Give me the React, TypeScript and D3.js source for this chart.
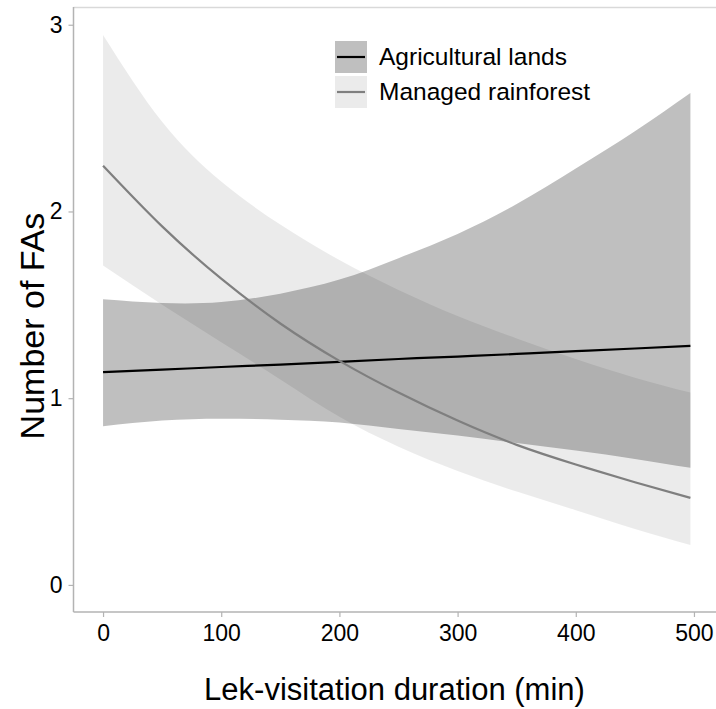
import React, { useRef, useEffect } from 'react';
import * as d3 from 'd3';

// duration values (min) at which the fitted curves were read
const durations = [0, 50, 100, 150, 200, 250, 300, 350, 400, 450, 497];

// Agricultural lands: fit and 95% band
const agriFit = [1.14, 1.153, 1.167, 1.18, 1.195, 1.21, 1.223, 1.237, 1.252, 1.266, 1.28];
const agriUpper = [1.53, 1.51, 1.515, 1.56, 1.635, 1.75, 1.88, 2.04, 2.23, 2.43, 2.635];
const agriLower = [0.85, 0.88, 0.89, 0.885, 0.87, 0.835, 0.8, 0.76, 0.72, 0.675, 0.627];

// Managed rainforest: fit and 95% band
const managedFit = [2.245, 1.92, 1.64, 1.4, 1.2, 1.03, 0.88, 0.75, 0.645, 0.55, 0.466];
const managedUpper = [2.945, 2.48, 2.16, 1.93, 1.74, 1.58, 1.44, 1.32, 1.21, 1.11, 1.03];
const managedLower = [1.71, 1.5, 1.3, 1.1, 0.9, 0.74, 0.61, 0.5, 0.4, 0.3, 0.214];

const seriesNames = ['Agricultural lands', 'Managed rainforest'];
const xTicks = [0, 100, 200, 300, 400, 500];
const yTicks = [0, 1, 2, 3];

const W = 716;
const H = 709;

const App: React.FC = () => {
  const svgRef = useRef<SVGSVGElement>(null);

  useEffect(() => {
    if (!svgRef.current) return;
    const svg = d3.select(svgRef.current);
    svg.selectAll('*').remove();

    const font = "'Liberation Sans', Arial, sans-serif";
    const x = d3.scaleLinear().domain([-25, 525]).range([73.5, 723.5]);
    const y = d3.scaleLinear().domain([-0.145, 3.095]).range([612, 7]);

    const [x0, x1] = x.range();
    const [yb, yt] = y.range();

    svg.append('defs').append('clipPath').attr('id', 'plot-clip')
      .append('rect')
      .attr('x', x0).attr('y', yt)
      .attr('width', x1 - x0).attr('height', yb - yt);

    // top border of the panel
    svg.append('line')
      .attr('x1', x0).attr('x2', W)
      .attr('y1', yt + 0.5).attr('y2', yt + 0.5)
      .attr('stroke', '#d9d9d9').attr('stroke-width', 1.5);

    const series = [
      { name: seriesNames[0], fit: agriFit, lo: agriLower, hi: agriUpper, fill: 'black', alpha: 0.25, line: '#000000' },
      { name: seriesNames[1], fit: managedFit, lo: managedLower, hi: managedUpper, fill: 'black', alpha: 0.08, line: '#7f7f7f' },
    ];

    const g = svg.append('g').attr('clip-path', 'url(#plot-clip)');

    const area = d3.area<number>()
      .x((_, i) => x(durations[i]))
      .curve(d3.curveNatural);
    const line = d3.line<number>()
      .x((_, i) => x(durations[i]))
      .y(d => y(d))
      .curve(d3.curveNatural);

    series.forEach(s => {
      g.append('path')
        .datum(s.fit)
        .attr('d', area.y0((_, i) => y(s.lo[i])).y1((_, i) => y(s.hi[i])))
        .attr('fill', s.fill)
        .attr('fill-opacity', s.alpha);
    });

    series.forEach(s => {
      g.append('path')
        .datum(s.fit)
        .attr('d', line)
        .attr('fill', 'none')
        .attr('stroke', s.line)
        .attr('stroke-width', 2.2);
    });

    // axes
    const xAxis = svg.append('g').attr('transform', `translate(0, ${yb})`)
      .call(d3.axisBottom(x).tickValues(xTicks).tickSize(5).tickPadding(8).tickSizeOuter(0));
    const yAxis = svg.append('g').attr('transform', `translate(${x0}, 0)`)
      .call(d3.axisLeft(y).tickValues(yTicks).tickFormat(d3.format('d')).tickSize(5).tickPadding(6).tickSizeOuter(0));

    [xAxis, yAxis].forEach(ax => {
      ax.select('.domain').attr('stroke', '#b3b3b3').attr('stroke-width', 1.5);
      ax.selectAll('.tick line').attr('stroke', '#b3b3b3').attr('stroke-width', 1.2);
      ax.selectAll('.tick text')
        .attr('fill', '#000')
        .style('font-family', font)
        .style('font-size', '23px');
    });
    xAxis.select('.domain').attr('d', `M${x0},0H${W}`);
    yAxis.select('.domain').attr('d', `M0,${yb}V${yt}`);

    // axis titles
    svg.append('text')
      .attr('x', (x0 + x1) / 2 - 4)
      .attr('y', 700)
      .attr('text-anchor', 'middle')
      .style('font-family', font)
      .style('font-size', '31px')
      .text('Lek-visitation duration (min)');

    svg.append('text')
      .attr('transform', `translate(44, 326) rotate(-90)`)
      .attr('text-anchor', 'middle')
      .style('font-family', font)
      .style('font-size', '34px')
      .text('Number of FAs');

    // legend
    const legend = svg.append('g').attr('transform', 'translate(335, 41)');
    series.forEach((s, i) => {
      const row = legend.append('g').attr('transform', `translate(0, ${i * 35})`);
      row.append('rect')
        .attr('width', 32).attr('height', 32)
        .attr('fill', s.fill).attr('fill-opacity', s.alpha);
      row.append('line')
        .attr('x1', 2).attr('x2', 30)
        .attr('y1', 16).attr('y2', 16)
        .attr('stroke', s.line).attr('stroke-width', 2.2);
      row.append('text')
        .attr('x', 44).attr('y', 24)
        .style('font-family', font)
        .style('font-size', '24.5px')
        .text(s.name);
    });
  }, []);

  return (
    <svg
      ref={svgRef}
      width={W}
      height={H}
      style={{ position: 'absolute', left: 0, top: 0, background: '#fff' }}
    />
  );
};

export default App;
